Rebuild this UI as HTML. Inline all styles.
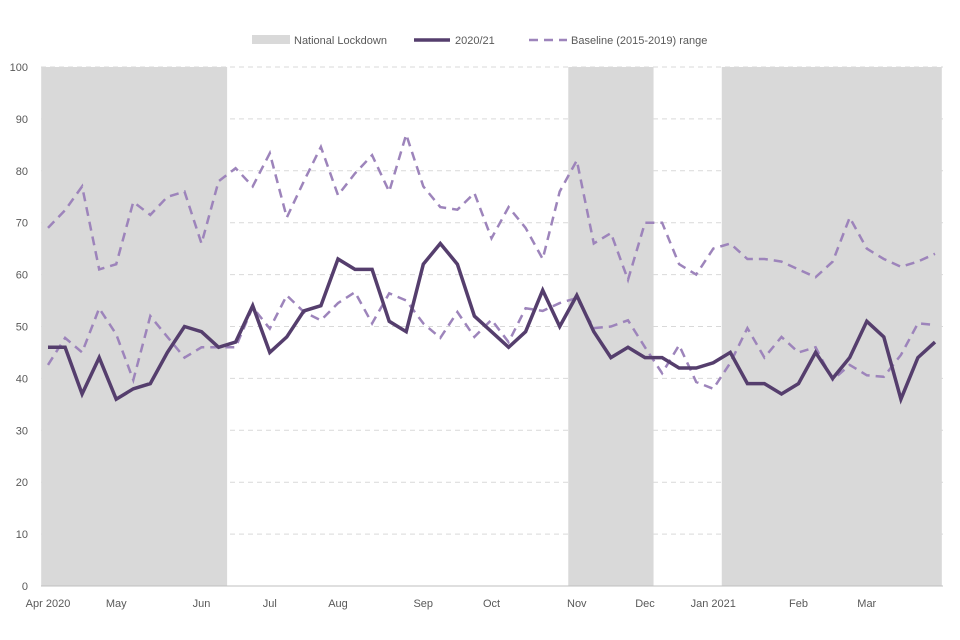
<!DOCTYPE html>
<html><head><meta charset="utf-8"><style>
html,body{margin:0;padding:0;background:#fff;}
svg{display:block;font-family:"Liberation Sans",sans-serif;}
</style></head><body>
<svg id="chart" width="960" height="640"></svg>
<script>
const solidVals=[46,46,37,44,36,38,39,45,50,49,46,47,54,45,48,53,54,63,61,61,51,49,62,66,62,52,49,46,49,57,50,56,49,44,46,44,44,42,42,43,45,39,39,37,39,45,40,44,51,48,36,44,47];
const upperVals=[69,72.4,77,61,62,74,71.5,75,76,66,78,80.5,77,83.4,71,78,84.6,75.3,79.5,83,76,87,77,73,72.5,75.7,67,73,69,63,76,82,66,68,59,70,70,62,60,65,66,63,63,62.5,61,59.5,62.5,71,65,63,61.5,62.5,64];
const lowerVals=[42.6,47.8,45,53.5,48.5,39.7,52,48,44,46,46,46,53.7,49.6,56,52.8,51.2,54.5,56.6,50.6,56.4,55,50.6,47.8,52.8,48,51.3,47,53.5,53,54.5,55.5,49.7,50,51.2,46,41,46.4,39.3,38,43,49.7,44,48,45,46,39.7,42.6,40.6,40.3,44.5,50.6,50.3];
const lockdowns=[[-0.4,10.5],[30.5,35.5],[39.5,52.4]];
const monthLabels=["Apr 2020","May","Jun","Jul","Aug","Sep","Oct","Nov","Dec","Jan 2021","Feb","Mar"];
const monthIdx=[0,4,9,13,17,22,26,31,35,39,44,48];
const yTicks=[0,10,20,30,40,50,60,70,80,90,100];

const NS="http://www.w3.org/2000/svg";
const svg=document.getElementById('chart');
const L=41,R=943,T=67,B=586;
const x=i=>48+i*(935-48)/52;
const y=v=>B-(v/100)*(B-T);
function mk(t,a,p){const e=document.createElementNS(NS,t);for(const k in a)e.setAttribute(k,a[k]);(p||svg).appendChild(e);return e;}

yTicks.forEach(t=>{
 if(t>0){const g=mk('line',{x1:L,x2:R,y1:y(t),y2:y(t),stroke:'#d9d9d9','stroke-dasharray':'5,4','stroke-width':1});
 
 }
 const tx=mk('text',{x:28,y:y(t)+4,'text-anchor':'end','font-size':11,fill:'#595959'});tx.textContent=t;
 
 
});
lockdowns.forEach(d=>{
 const x0=Math.max(L,x(d[0])),x1=Math.min(R,x(d[1]));
 const r=mk('rect',{x:x0,y:T,width:x1-x0,height:B-T,fill:'#d9d9d9'});
 
 
});
const ax=mk('line',{x1:L,x2:R,y1:B,y2:B,stroke:'#bfbfbf','stroke-width':1});


monthLabels.forEach((m,k)=>{
 const tx=mk('text',{x:x(monthIdx[k]),y:607,'text-anchor':'middle','font-size':11,fill:'#595959'});tx.textContent=m;
 
 
});
function pts(a){return a.map((v,i)=>x(i).toFixed(1)+','+y(v).toFixed(1)).join(' ');}
const up=mk('polyline',{points:pts(upperVals),fill:'none',stroke:'#9d84bb','stroke-width':2.5,'stroke-dasharray':'9,6'});


const lo=mk('polyline',{points:pts(lowerVals),fill:'none',stroke:'#9d84bb','stroke-width':2.5,'stroke-dasharray':'9,6'});


const so=mk('polyline',{points:pts(solidVals),fill:'none',stroke:'#553e6d','stroke-width':3.5,'stroke-linejoin':'miter'});



const lg=mk('g',{});


const l1=mk('rect',{x:252,y:35,width:38,height:9,fill:'#d9d9d9'},lg);


const t1=mk('text',{x:294,y:44,'font-size':11,fill:'#595959'},lg);t1.textContent='National Lockdown';


const l2=mk('line',{x1:414,x2:450,y1:40,y2:40,stroke:'#553e6d','stroke-width':3.5},lg);


const t2=mk('text',{x:455,y:44,'font-size':11,fill:'#595959'},lg);t2.textContent='2020/21';


const l3=mk('line',{x1:529,x2:567,y1:40,y2:40,stroke:'#9d84bb','stroke-width':2.5,'stroke-dasharray':'9,6'},lg);


const t3=mk('text',{x:571,y:44,'font-size':11,fill:'#595959'},lg);t3.textContent='Baseline (2015-2019) range';


</script>
</body></html>
